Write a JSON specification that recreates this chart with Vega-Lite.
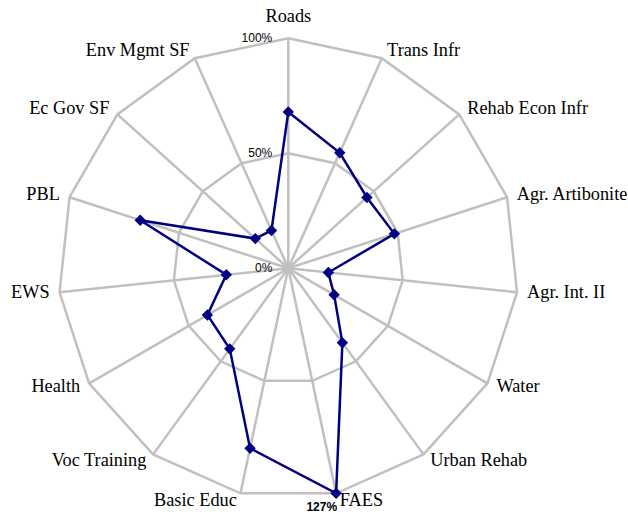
{
  "$schema": "https://vega.github.io/schema/vega-lite/v6.json",
  "width": 628,
  "height": 515,
  "autosize": "none",
  "padding": 0,
  "background": "white",
  "config": {"view": {"stroke": null}},
  "datasets": {
    "cats": [
      {"idx": 0, "cat": "Roads", "value": 0.68},
      {"idx": 1, "cat": "Trans Infr", "value": 0.55},
      {"idx": 2, "cat": "Rehab Econ Infr", "value": 0.46},
      {"idx": 3, "cat": "Agr. Artibonite", "value": 0.485},
      {"idx": 4, "cat": "Agr. Int. II", "value": 0.175},
      {"idx": 5, "cat": "Water", "value": 0.23},
      {"idx": 6, "cat": "Urban Rehab", "value": 0.40},
      {"idx": 7, "cat": "FAES", "value": 1.27},
      {"idx": 8, "cat": "Basic Educ", "value": 0.80},
      {"idx": 9, "cat": "Voc Training", "value": 0.433},
      {"idx": 10, "cat": "Health", "value": 0.406},
      {"idx": 11, "cat": "EWS", "value": 0.271},
      {"idx": 12, "cat": "PBL", "value": 0.677},
      {"idx": 13, "cat": "Ec Gov SF", "value": 0.193},
      {"idx": 14, "cat": "Env Mgmt SF", "value": 0.18}
    ],
    "ticks": [
      {"t": "0%", "v": 0, "z": 0},
      {"t": "50%", "v": 0.5, "z": 0},
      {"t": "100%", "v": 1, "z": 0}
    ]
  },
  "layer": [
    {
      "data": {"name": "cats"},
      "transform": [
        {"calculate": "datum.idx * 2 * PI / 15", "as": "a"},
        {"calculate": "sin(datum.a)", "as": "vx"},
        {"calculate": "cos(datum.a)", "as": "vy"},
        {"calculate": "0", "as": "c0"}
      ],
      "mark": {"type": "rule", "color": "#c0c0c0", "strokeWidth": 2.5},
      "encoding": {
        "x": {"field": "vx", "type": "quantitative", "scale": {"domain": [-1.2535, 1.477], "nice": false, "zero": false}, "axis": null},
        "y": {"field": "vy", "type": "quantitative", "scale": {"domain": [-1.0726, 1.1665], "nice": false, "zero": false}, "axis": null},
        "x2": {"field": "c0"},
        "y2": {"field": "c0"}
      }
    },
    {
      "data": {"name": "cats"},
      "transform": [
        {"calculate": "datum.idx * 2 * PI / 15", "as": "a"},
        {"calculate": "0.5", "as": "ringHalf"},
        {"calculate": "1", "as": "ringFull"},
        {"fold": ["ringHalf", "ringFull"], "as": ["ring", "rv"]},
        {"calculate": "datum.rv * sin(datum.a)", "as": "rx"},
        {"calculate": "datum.rv * cos(datum.a)", "as": "ry"}
      ],
      "mark": {"type": "line", "color": "#c0c0c0", "strokeWidth": 2.5, "interpolate": "linear-closed"},
      "encoding": {
        "x": {"field": "rx", "type": "quantitative", "scale": {"domain": [-1.2535, 1.477], "nice": false, "zero": false}, "axis": null},
        "y": {"field": "ry", "type": "quantitative", "scale": {"domain": [-1.0726, 1.1665], "nice": false, "zero": false}, "axis": null},
        "detail": {"field": "ring"},
        "order": {"field": "idx"}
      }
    },
    {
      "data": {"name": "ticks"},
      "mark": {"type": "text", "align": "right", "baseline": "middle", "dx": -16, "font": "Liberation Sans", "fontSize": 12, "color": "#000000"},
      "encoding": {
        "x": {"field": "z", "type": "quantitative", "scale": {"domain": [-1.2535, 1.477], "nice": false, "zero": false}, "axis": null},
        "y": {"field": "v", "type": "quantitative", "scale": {"domain": [-1.0726, 1.1665], "nice": false, "zero": false}, "axis": null},
        "text": {"field": "t"}
      }
    },
    {
      "data": {"name": "cats"},
      "transform": [
        {"calculate": "datum.idx * 2 * PI / 15", "as": "a"},
        {"calculate": "min(datum.value, 1)", "as": "rp"},
        {"calculate": "datum.rp * sin(datum.a)", "as": "px"},
        {"calculate": "datum.rp * cos(datum.a)", "as": "py"}
      ],
      "layer": [
        {
          "mark": {"type": "line", "color": "#000080", "strokeWidth": 2.5, "interpolate": "linear-closed"},
          "encoding": {
            "x": {"field": "px", "type": "quantitative", "scale": {"domain": [-1.2535, 1.477], "nice": false, "zero": false}, "axis": null},
            "y": {"field": "py", "type": "quantitative", "scale": {"domain": [-1.0726, 1.1665], "nice": false, "zero": false}, "axis": null},
            "order": {"field": "idx"}
          }
        },
        {
          "mark": {"type": "point", "shape": "diamond", "filled": true, "color": "#000080", "opacity": 1, "size": 130},
          "encoding": {
            "x": {"field": "px", "type": "quantitative", "scale": {"domain": [-1.2535, 1.477], "nice": false, "zero": false}, "axis": null},
            "y": {"field": "py", "type": "quantitative", "scale": {"domain": [-1.0726, 1.1665], "nice": false, "zero": false}, "axis": null}
          }
        },
        {
          "transform": [{"filter": "datum.value > 1"}],
          "mark": {"type": "text", "align": "right", "baseline": "alphabetic", "dx": 1, "dy": 18, "font": "Liberation Sans", "fontSize": 12, "fontWeight": "bold", "color": "#000000"},
          "encoding": {
            "x": {"field": "px", "type": "quantitative", "scale": {"domain": [-1.2535, 1.477], "nice": false, "zero": false}, "axis": null},
            "y": {"field": "py", "type": "quantitative", "scale": {"domain": [-1.0726, 1.1665], "nice": false, "zero": false}, "axis": null},
            "text": {"field": "value", "format": ".0%"}
          }
        }
      ]
    },
    {
      "data": {"name": "cats"},
      "transform": [
        {"calculate": "datum.idx * 2 * PI / 15", "as": "a"},
        {"calculate": "1.035 * sin(datum.a)", "as": "lx"},
        {"calculate": "1.035 * cos(datum.a)", "as": "ly"}
      ],
      "layer": [
        {
          "transform": [{"filter": "datum.idx >= 1 && datum.idx <= 7"}],
          "mark": {"type": "text", "align": "left", "baseline": "middle", "dx": 2, "font": "Liberation Serif", "fontSize": 18.3, "color": "#000000"},
          "encoding": {
            "x": {"field": "lx", "type": "quantitative", "scale": {"domain": [-1.2535, 1.477], "nice": false, "zero": false}, "axis": null},
            "y": {"field": "ly", "type": "quantitative", "scale": {"domain": [-1.0726, 1.1665], "nice": false, "zero": false}, "axis": null},
            "text": {"field": "cat"}
          }
        },
        {
          "transform": [{"filter": "datum.idx >= 8"}],
          "mark": {"type": "text", "align": "right", "baseline": "middle", "dx": -2, "font": "Liberation Serif", "fontSize": 18.3, "color": "#000000"},
          "encoding": {
            "x": {"field": "lx", "type": "quantitative", "scale": {"domain": [-1.2535, 1.477], "nice": false, "zero": false}, "axis": null},
            "y": {"field": "ly", "type": "quantitative", "scale": {"domain": [-1.0726, 1.1665], "nice": false, "zero": false}, "axis": null},
            "text": {"field": "cat"}
          }
        },
        {
          "transform": [{"filter": "datum.idx == 0"}],
          "mark": {"type": "text", "align": "center", "baseline": "alphabetic", "dy": -8, "font": "Liberation Serif", "fontSize": 18.3, "color": "#000000"},
          "encoding": {
            "x": {"field": "lx", "type": "quantitative", "scale": {"domain": [-1.2535, 1.477], "nice": false, "zero": false}, "axis": null},
            "y": {"field": "ly", "type": "quantitative", "scale": {"domain": [-1.0726, 1.1665], "nice": false, "zero": false}, "axis": null},
            "text": {"field": "cat"}
          }
        }
      ]
    }
  ]
}
